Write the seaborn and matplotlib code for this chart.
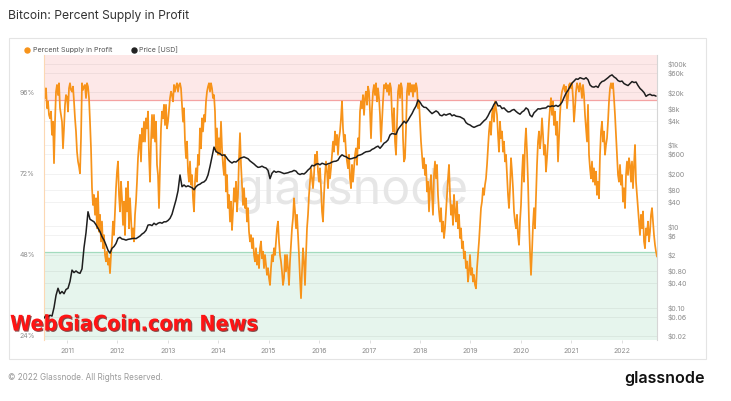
import matplotlib
matplotlib.use("Agg")
import matplotlib.pyplot as plt
import matplotlib.dates as mdates
import matplotlib.patheffects as pe
from matplotlib import transforms
from matplotlib.lines import Line2D
from matplotlib.patches import Rectangle
from matplotlib.ticker import FixedLocator, FixedFormatter, NullLocator
import pandas as pd
import seaborn as sns

# ---------------- data ----------------
supply_start, supply_end = "2010-07-18", "2022-09-15"
supply_in_profit = [
    98.4, 94.5, 97.4, 91.5, 93.5, 89.5, 88.5, 90.5, 83.6, 87.5,
    75.2, 87.5, 96.4, 98.4, 95.4, 98.9, 91.5, 89.5, 87.5, 79.6,
    85.5, 92.5, 95.4, 94.9, 90.5, 97.4, 98.9, 96.9, 96.4, 97.9,
    93.5, 88.5, 84.6, 78.6, 75.7, 74.2, 72.2, 82.6, 98.9, 96.9,
    97.9, 98.4, 94.5, 98.9, 97.9, 94.5, 87.5, 79.6, 67.8, 62.8,
    65.8, 59.9, 64.8, 55.9, 66.8, 54.9, 59.9, 52.0, 57.9, 50.0,
    53.9, 48.0, 46.1, 49.0, 45.1, 47.0, 42.6, 48.0, 52.0, 57.9,
    53.9, 60.9, 67.8, 72.7, 75.7, 65.8, 60.9, 69.7, 64.8, 56.9,
    63.8, 53.9, 67.8, 60.9, 69.7, 55.9, 64.8, 58.9, 53.0, 55.9,
    52.0, 59.9, 63.8, 69.7, 76.7, 80.6, 83.6, 75.7, 85.5, 81.6,
    87.5, 81.6, 88.5, 85.5, 90.5, 77.7, 69.7, 81.6, 89.5, 82.6,
    89.5, 81.6, 87.5, 74.7, 71.7, 61.9, 73.7, 85.5, 90.5, 88.5,
    92.5,
    86.5, 92.5, 85.5, 87.5, 91.0, 94.5, 96.4, 95.4, 93.5, 98.4,
    96.4, 97.9, 98.9, 96.4, 98.4, 98.9, 97.4, 92.5, 87.5, 91.5,
    81.6, 76.7, 81.6, 72.7, 69.7, 75.7, 68.8, 71.7, 64.8, 60.9,
    69.7, 73.7, 69.7, 77.7, 74.7, 85.5, 79.6, 88.5, 84.6, 89.5,
    87.5, 93.5, 96.4, 97.9, 98.9, 96.4, 98.9, 97.4, 94.5, 95.4,
    90.5, 78.6, 85.5, 77.7, 82.6, 77.7, 87.5, 79.6, 74.7, 71.7,
    77.7, 66.8, 71.7, 61.9, 65.8, 57.9, 63.8, 55.4, 60.9, 67.8,
    63.8, 69.7, 60.9, 65.8, 76.7, 84.1, 74.7, 68.8, 62.8, 67.8,
    61.9, 64.8, 57.9, 61.9, 54.9, 52.0, 53.9, 50.0, 53.0, 48.0,
    46.1, 50.0, 45.1, 48.0, 44.1, 50.0, 52.0, 47.0, 49.0, 44.1,
    48.0, 45.1, 42.1, 44.1, 41.1, 39.1, 44.1, 48.0, 46.1, 50.0,
    48.0, 52.0, 55.9, 57.9, 52.0, 48.0, 46.1, 43.1, 39.1, 41.1,
    48.0, 43.1, 48.0, 44.1, 39.1, 46.1, 51.0, 55.9, 58.9, 64.8,
    60.9, 55.9, 59.9, 53.9, 48.0, 41.1, 35.2, 43.1, 50.0, 46.1,
    39.1, 48.0, 55.9, 59.9, 65.8, 69.7, 73.7, 70.7, 67.8, 71.7,
    77.7, 74.7, 78.6, 72.7, 69.7, 73.7, 67.8, 60.9, 57.9, 65.8,
    71.7, 75.7, 72.7, 67.8, 74.7, 70.7, 73.7, 77.7, 81.6, 78.6,
    84.6, 80.6, 83.6, 77.7, 82.6, 84.6, 88.5, 93.5, 85.5, 81.6,
    83.6, 78.6, 75.7, 73.7, 77.7, 70.7, 67.8, 74.7, 69.7, 73.7,
    77.7, 79.6, 74.7, 82.6, 79.6, 90.5, 93.5, 91.5, 95.4, 89.5,
    94.5, 96.4, 92.5, 97.9, 96.4, 90.5, 82.6, 91.5, 96.4, 98.4,
    95.4, 98.9, 93.5, 97.4, 94.5, 89.5, 81.6, 87.5, 93.5, 98.4,
    97.4, 98.9, 96.4, 98.4, 95.4, 98.9, 97.4, 89.5, 84.6, 91.5,
    81.6, 77.7, 87.5, 96.4, 98.4, 94.5, 98.9, 97.4, 82.6, 75.7,
    76.7, 85.5, 96.4, 98.9, 95.4, 98.9, 96.4, 98.4, 94.9, 98.4,
    96.4, 98.9, 97.4, 91.5, 93.5, 87.5, 81.6, 77.7, 73.7, 76.7,
    71.7, 74.7, 66.8, 69.7, 60.9, 67.8, 71.7, 65.8, 59.9, 71.7,
    75.7, 70.7, 74.7, 65.8, 60.9, 57.9, 61.9, 54.9, 57.9, 53.0,
    55.9, 60.9, 65.8, 70.7, 74.7, 65.8, 59.9, 62.8, 56.9, 65.8,
    60.9, 57.9, 63.8, 55.9, 59.9, 53.0, 55.9, 50.0, 52.0, 47.0,
    49.0, 44.1, 46.1, 40.1, 43.1, 48.0, 42.1, 44.1, 40.1, 42.1,
    39.1, 38.1, 44.1, 48.0, 52.0, 56.9, 61.9, 63.8, 67.8, 65.8,
    68.8, 70.7, 74.7, 79.6, 84.6, 87.5, 83.6, 89.5, 91.5, 87.5,
    93.5, 91.5, 89.5, 83.6, 78.6, 87.5, 82.6, 84.6, 78.6, 81.6,
    75.7, 77.7, 71.7, 65.8, 61.9, 67.8, 76.7, 72.7, 67.8, 60.9,
    57.9, 55.9, 59.9, 53.9, 51.0, 57.9, 62.8, 71.7, 77.7, 69.7,
    80.6, 85.5, 78.6, 69.7, 57.9, 49.0, 42.1, 49.0, 56.9, 61.9,
    55.9, 65.8, 74.7, 81.6, 84.6, 79.6, 82.6, 88.5, 83.6, 77.7,
    80.6, 72.7, 76.7, 81.6, 87.5, 91.5, 94.5, 89.5, 93.5, 86.5,
    90.5, 83.6, 87.5, 75.7, 82.6, 89.5, 94.5, 96.4, 97.4, 98.4,
    96.4, 97.9, 91.5, 94.5, 98.4, 98.9, 97.4, 98.9, 94.5, 87.5,
    91.5, 96.4, 98.9, 97.9, 96.4, 98.9, 97.4, 94.5, 98.4, 95.4,
    89.5, 85.5, 81.6, 92.5, 77.7, 73.7, 70.7, 75.7, 69.7, 73.7,
    68.8, 72.7, 65.8, 69.7, 64.8, 77.7, 84.6, 87.5, 81.6, 84.6,
    77.7, 80.6, 82.6, 87.5, 93.5, 97.4, 98.9, 97.4, 98.9, 94.5,
    89.5, 83.6, 77.7, 71.7, 69.7, 74.7, 68.8, 71.7, 63.8, 67.8,
    61.9, 71.7, 75.7, 71.7, 76.7, 74.7, 69.7, 75.7, 67.8, 74.7,
    80.6, 69.7, 65.8, 61.9, 57.9, 53.9, 59.9, 55.9, 60.9, 52.0,
    50.0, 55.9, 53.9, 57.9, 52.0, 54.9, 59.9, 61.9, 57.9, 53.9,
    51.0, 49.0, 47.5,
]

price_start, price_end = "2010-07-18", "2022-09-08"
price_usd = [
    0.055, 0.065, 0.060, 0.065, 0.062, 0.10, 0.20, 0.30, 0.22, 0.25,
    0.22, 0.28, 0.30, 0.44, 0.84, 0.73, 0.80, 0.73, 0.70, 0.90,
    3.0, 7.0, 23, 15, 14, 13, 11, 9.0, 7.4, 5.6,
    4.6, 3.5, 2.6, 2.2, 2.9, 3.2, 3.8, 5.1, 5.4, 4.9,
    4.8, 4.6, 4.8, 4.9, 5.0, 5.1, 5.0, 5.4, 5.8, 6.5,
    7.0, 8.0, 10.8, 11, 10.5, 12, 11, 12, 12.5, 12,
    13,
    13, 14, 15.8, 20, 30, 45, 75, 185, 95, 105,
    95, 100, 95, 90, 80, 95, 105, 110, 120, 125,
    140, 185, 300, 520, 900, 700, 650, 620, 560, 580,
    520, 440, 394, 365, 395, 385, 425, 475, 495, 515,
    490, 465, 410, 375, 345, 310, 285, 290, 305, 285,
    275, 240, 150, 205, 232, 215, 225, 220, 210, 200,
    205, 210, 220, 225, 240, 230, 200, 190, 200, 195,
    215, 245, 270, 320, 310, 340, 350, 330, 360, 345,
    330, 350, 360, 385, 400, 405, 430, 520, 580, 540,
    520, 480, 460, 470, 490, 500, 560, 575, 600, 650,
    690, 700, 720, 790, 830, 900, 950, 840, 960, 1120,
    1200, 1350, 1790, 1950, 1900, 1850, 2450, 2860, 3300, 3900,
    3500, 4100, 5000, 6000, 7600, 9200, 13000, 11500, 9500, 8600,
    8500, 7600, 6700, 6000, 6500, 7000, 6500, 5500, 5300, 5800,
    5500, 5800, 6000, 5300, 5600, 5200, 5100, 5000, 4700, 4400,
    3600, 3300, 3150, 2900, 2750, 2900, 3050, 3150, 3550, 4000,
    4400, 5300, 6700, 8000, 10200, 11800, 9300, 9400, 8000, 8300,
    7300, 6600, 6700, 7300, 7600, 6800, 6200, 5800, 6600, 7100,
    8300, 7600, 5500, 5000, 6300, 7000, 7900, 7800, 8100, 8200,
    8300, 9200, 8900, 9300, 9100, 9600, 9000, 9800, 11500, 15000,
    19000, 22500, 27700, 34000, 38000, 43000, 42000, 46000, 44000, 42500,
    46000, 41000, 30400, 27500, 27000, 28500, 26500, 33000, 37000, 38500,
    42000, 46000, 51000, 54000, 48000, 44500, 39000, 37000, 38000, 33000,
    31000, 29500, 33000, 37000, 35000, 36000, 29500, 25000, 22500, 19800,
    16000, 17300, 18000, 16800, 17000, 16200,
]

upper_band = 94.0
lower_band = 49.0

pct_ticks = [24, 48, 72, 96]
pct_labels = ["24%", "48%", "72%", "96%"]
price_ticks = [0.02, 0.06, 0.10, 0.40, 0.80, 2, 6, 10, 40, 80, 200, 600,
               1000, 4000, 8000, 20000, 60000, 100000]
price_labels = ["$0.02", "$0.06", "$0.10", "$0.40", "$0.80", "$2", "$6", "$10",
                "$40", "$80", "$200", "$600", "$1k", "$4k", "$8k", "$20k",
                "$60k", "$100k"]

# ---------------- figure ----------------
sns.set_theme(style="white")
plt.rcParams["font.family"] = ["Inter", "DejaVu Sans"]

W, H = 731, 401
fig = plt.figure(figsize=(W / 100, H / 100), dpi=100, facecolor="white")
renderer = fig.canvas.get_renderer()


def fx(px):
    return px / W


def fy(py):
    return 1 - py / H


def fit(t, width_px):
    bb = t.get_window_extent(renderer)
    t.set_fontsize(t.get_fontsize() * width_px / bb.width)


L_, R_, T_, B_ = 44, 657, 55, 340
ax = fig.add_axes([fx(L_), fy(B_), fx(R_) - fx(L_), fy(T_) - fy(B_)])
ax.set_facecolor("white")
ax2 = ax.twinx()

supply_df = pd.DataFrame({
    "date": pd.date_range(supply_start, supply_end, periods=len(supply_in_profit)),
    "supply": supply_in_profit,
})
price_df = pd.DataFrame({
    "date": pd.date_range(price_start, price_end, periods=len(price_usd)),
    "price": price_usd,
})

pct_lo, pct_hi = 22.8, 107.26
price_lo, price_hi = 0.01596, 166700

ax2.set_yscale("log")

ax.axhspan(upper_band, pct_hi, facecolor="#fde8e8", edgecolor="none", zorder=0)
ax.axhspan(pct_lo, lower_band, facecolor="#e6f5ed", edgecolor="none", zorder=0)

grid_tf = transforms.blended_transform_factory(ax.transAxes, ax2.transData)
for p in price_ticks:
    ax.add_line(Line2D([0, 1], [p, p], transform=grid_tf, color="black",
                       alpha=0.06, lw=0.6, zorder=0.5))

ax.axhline(upper_band, color="#f4a3a3", lw=0.9, zorder=0.7)
ax.axhline(lower_band, color="#a3dbbe", lw=0.9, zorder=0.7)

sns.lineplot(data=supply_df, x="date", y="supply", ax=ax, color="#f7931a",
             linewidth=1.25, zorder=2)
sns.lineplot(data=price_df, x="date", y="price", ax=ax2, color="#1e1e1e",
             linewidth=1.1, zorder=3)

ax.set_ylim(pct_lo, pct_hi)
ax2.set_ylim(price_lo, price_hi)
ax.set_xlim(pd.Timestamp(supply_start), pd.Timestamp(supply_end))

# watermark
wm = ax.text(fx(351), fy(204), "glassnode", transform=fig.transFigure,
             ha="center", va="baseline", color="#e6e6e6", fontsize=36,
             zorder=1)
fit(wm, 235)

# axes styling
for a in (ax, ax2):
    a.set_xlabel("")
    a.set_ylabel("")
    for s in a.spines.values():
        s.set_visible(False)
ax.spines["left"].set_visible(True)
ax.spines["left"].set_color("#fcd8b3")
ax.spines["left"].set_linewidth(0.8)
ax2.spines["right"].set_visible(True)
ax2.spines["right"].set_color("#d6d6d6")
ax2.spines["right"].set_linewidth(0.8)

ax.set_yticks(pct_ticks)
ax.set_yticklabels(pct_labels)
ax.tick_params(axis="y", length=0, pad=6.5, labelsize=5, labelcolor="#8c8c8c")
ax.xaxis.set_major_locator(mdates.YearLocator())
ax.xaxis.set_major_formatter(mdates.DateFormatter("%Y"))
ax.tick_params(axis="x", length=2.5, width=0.6, color="#d9d9d9", pad=3,
               labelsize=5, labelcolor="#8c8c8c", bottom=True)

ax2.yaxis.set_major_locator(FixedLocator(price_ticks))
ax2.yaxis.set_major_formatter(FixedFormatter(price_labels))
ax2.yaxis.set_minor_locator(NullLocator())
ax2.tick_params(axis="y", which="both", length=0, pad=8, labelsize=5,
                labelcolor="#8c8c8c")

# card frame
fig.add_artist(Rectangle((fx(8.5), fy(359)), fx(705.5) - fx(8.5), fy(38) - fy(359),
                         transform=fig.transFigure, facecolor="none",
                         edgecolor="#e4e4e4", lw=0.8, zorder=-1))

# title
t = fig.text(fx(8), fy(16), "Bitcoin: Percent Supply in Profit", fontsize=9,
             color="#333333", va="center", ha="left")
fit(t, 182)

# legend
fig.add_artist(Line2D([fx(27)], [fy(50)], marker="o", markersize=3.6,
                      color="#f7931a", linestyle="none", transform=fig.transFigure))
t = fig.text(fx(33), fy(50), "Percent Supply in Profit", fontsize=5,
             color="#555555", va="center", ha="left")
fit(t, 80)
fig.add_artist(Line2D([fx(134)], [fy(50)], marker="o", markersize=3.6,
                      color="#222222", linestyle="none", transform=fig.transFigure))
t = fig.text(fx(139), fy(50), "Price [USD]", fontsize=5,
             color="#555555", va="center", ha="left")
fit(t, 39)

# footer
t = fig.text(fx(8), fy(378), "\u00a9 2022 Glassnode. All Rights Reserved.",
             fontsize=6, color="#9a9a9a", va="center", ha="left")
fit(t, 153)
t = fig.text(fx(705), fy(378), "glassnode", fontsize=11, color="#111111",
             va="center", ha="right", fontweight="semibold")
fit(t, 80)

# overlay caption from the source image
t = fig.text(fx(10), fy(330.5), "WebGiaCoin.com News",
             family=["Liberation Sans Narrow", "DejaVu Sans"],
             fontweight="bold", fontstretch="condensed", color="#ff1414",
             va="baseline", ha="left", fontsize=20, zorder=10,
             path_effects=[pe.withSimplePatchShadow(offset=(0.8, -0.8),
                                                    shadow_rgbFace="#5a0000",
                                                    alpha=0.7)])
fit(t, 248)

fig.savefig("out.png", dpi=100, facecolor="white")
